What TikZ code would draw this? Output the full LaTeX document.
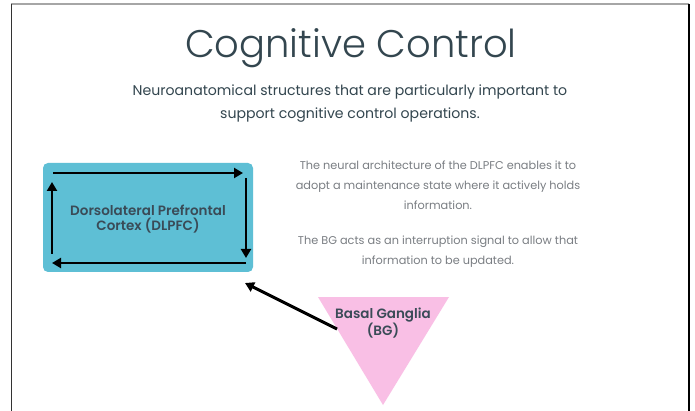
\documentclass[tikz,border=0pt]{standalone}
\usepackage{fontspec}
\setmainfont{Poppins}
\newfontfamily\titlefont{Poppins Light}
\newfontfamily\medfont{Poppins SemiBold}
\usetikzlibrary{arrows.meta,shapes.geometric}
\definecolor{teal}{HTML}{5EBFD5}
\definecolor{pinkbg}{HTML}{F9BFE5}
\definecolor{slate}{HTML}{3A4B57}
\definecolor{titlecol}{HTML}{33464F}
\definecolor{graytext}{HTML}{7A7E83}
\tikzset{
  loop/.style={line width=2.8pt, -{Triangle[length=9pt,width=10pt]}},
  bold label/.style={text=slate, font=\medfont\fontsize{13.5}{15.5}\selectfont, align=center},
  note/.style={text=graytext, font=\fontsize{11.3}{20}\selectfont, align=center},
}
\begin{document}
\begin{tikzpicture}[x=1pt,y=-1pt]
\useasboundingbox (0,0) rectangle (695,411);
\fill[white] (0,0) rectangle (695,411);
% frame
\draw[line width=2pt, gray!70] (11,4.5) -- (689,4.5);
\draw[line width=1.6pt, black!80] (11.5,4) -- (11.5,411);
\draw[line width=1.6pt, black] (689,4) -- (689,411);
% title
\node[text=titlecol, font=\titlefont\fontsize{38.5}{42}\selectfont] (title) at (351,48) {Cognitive Control};
\node[text=titlecol, font=\fontsize{14.1}{23}\selectfont, align=center] (sub) at (350,104)
  {Neuroanatomical structures that are particularly important to\\support cognitive control operations.};
% DLPFC box
\node[fill=teal, rounded corners=5pt, minimum width=210pt, minimum height=109pt, inner sep=0pt] (dlpfc) at (148,217.5) {};
\node[bold label] (dlpfctext) at (148,219) {Dorsolateral Prefrontal\\Cortex (DLPFC)};
\coordinate (c1) at (53,173);
\coordinate (c2) at (243,173);
\coordinate (c3) at (246,178);
\coordinate (c4) at (246,258);
\coordinate (c5) at (246,263);
\coordinate (c6) at (52,263);
\coordinate (c7) at (52,254);
\coordinate (c8) at (52,182);
\draw[loop] (c1) -- (c2);
\draw[loop] (c3) -- (c4);
\draw[loop] (c5) -- (c6);
\draw[loop] (c7) -- (c8);
% notes
\node[note] (note1) at (438,185) {The neural architecture of the DLPFC enables it to\\adopt a maintenance state where it actively holds\\information.};
\node[note] (note2) at (438,252) {The BG acts as an interruption signal to allow that\\information to be updated.};
% BG triangle
\path[fill=pinkbg] (318,297) -- (449,297) -- (383,405) -- cycle;
\coordinate (bg) at (383,340);
\node[bold label] (bgtext) at (383,323) {Basal Ganglia\\(BG)};
\coordinate (bgleft) at (337,329);
\coordinate (dlpfcin) at (245,283);
\draw[loop, line width=3pt] (bgleft) -- (dlpfcin);
\end{tikzpicture}
\end{document}
